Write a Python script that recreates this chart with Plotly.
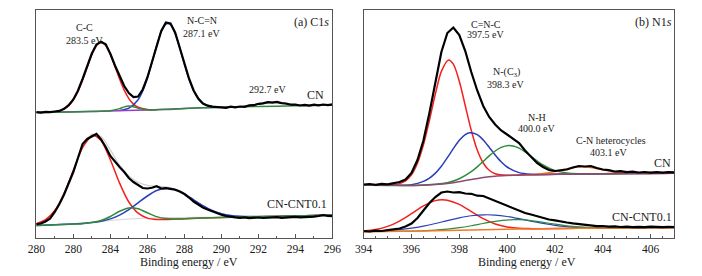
import plotly.graph_objects as go

# ---------------- Panel (a) C1s ----------------
c1_grid = [280.0, 280.25, 280.5, 280.75, 281.0, 281.25, 281.5, 281.75, 282.0, 282.25, 282.5, 282.75,
           283.0, 283.25, 283.5, 283.75, 284.0, 284.25, 284.5, 284.75, 285.0, 285.25, 285.5, 285.75,
           286.0, 286.25, 286.5, 286.75, 287.0, 287.25, 287.5, 287.75, 288.0, 288.25, 288.5, 288.75,
           289.0, 289.25, 289.5, 289.75, 290.0, 290.25, 290.5, 290.75, 291.0, 291.25, 291.5, 291.75,
           292.0, 292.25, 292.5, 292.75, 293.0, 293.25, 293.5, 293.75, 294.0, 294.25, 294.5, 294.75,
           295.0, 295.25, 295.5, 295.75, 296.0]
c1_cn_data = [126.0, 125.4, 126.1, 125.8, 126.5, 127.1, 129.2, 132.8, 138.5, 147.3, 159.0, 172.0,
              184.5, 193.5, 196.3, 193.8, 184.2, 172.5, 161.3, 152.0, 145.0, 141.0, 141.5, 148.5,
              160.5, 176.0, 192.5, 207.0, 215.5, 214.5, 205.5, 191.0, 174.5, 159.5, 147.5, 139.5,
              134.5, 132.3, 131.3, 131.0, 130.4, 130.2, 131.3, 130.6, 131.5, 131.2, 132.6, 132.8,
              134.2, 134.6, 135.8, 135.4, 136.1, 134.9, 134.5, 133.3, 133.4, 132.5, 133.1, 132.4,
              133.3, 132.7, 133.5, 132.8, 133.6]
c1_cnt_data = [13.8, 14.5, 16.5, 19.5, 26.0, 34.0, 43.5, 54.5, 66.0, 80.0, 94.0, 99.0,
               101.5, 104.0, 98.5, 91.0, 82.0, 76.0, 71.0, 66.0, 60.0, 56.0, 53.0, 50.0,
               49.5, 50.2, 51.8, 49.5, 49.8, 49.4, 48.3, 46.5, 44.0, 40.5, 36.5, 33.5,
               30.5, 28.5, 26.5, 24.5, 23.2, 22.0, 21.0, 20.6, 20.2, 20.7, 19.8, 20.4,
               20.5, 20.0, 20.1, 20.9, 20.8, 20.2, 20.4, 21.2, 21.1, 20.6, 20.7, 21.5,
               21.4, 22.0, 22.8, 22.0, 21.8]

# CN fitted components (C1s)
c1_cn_cc_x = [280, 280.5, 281, 281.5, 281.75, 282, 282.25, 282.5, 282.75, 283, 283.25, 283.5, 283.75,
              284, 284.25, 284.5, 284.75, 285, 285.25, 285.5, 286, 286.5]
c1_cn_cc_y = [125.5, 125.7, 126.3, 128.9, 132.3, 137.9, 146.5, 157.9, 170.9, 183.3, 192.3, 195.8, 192.6,
              183.8, 171.6, 158.9, 147.8, 139.4, 133.9, 130.8, 128.5, 128.3]
c1_cn_ncn_x = [284.5, 285, 285.5, 285.75, 286, 286.25, 286.5, 286.75, 287, 287.1, 287.25, 287.5, 287.75,
               288, 288.25, 288.5, 288.75, 289, 289.5, 290]
c1_cn_ncn_y = [127.6, 129.8, 138.3, 147.1, 159.8, 175.6, 192.3, 206.2, 213.8, 214.6, 213.2, 204.4, 190.1,
               173.7, 158.7, 147.1, 139.3, 134.7, 131.4, 130.9]
c1_cn_g_x = [280, 282, 283, 284, 284.5, 284.75, 285, 285.25, 285.5, 286, 287, 288, 289, 290, 292, 294, 296]
c1_cn_g_y = [125.5, 126, 126.5, 127.2, 129.35, 131.1, 132.0, 131.3, 129.85, 128.2, 128.5, 129.5, 130.3,
             130.8, 131.5, 132.2, 133.0]
c1_cn_p_x = [280, 284, 286, 288, 290, 291, 291.5, 292, 292.5, 292.7, 293, 293.5, 294, 294.5, 296]
c1_cn_p_y = [125.5, 127, 128, 129.5, 130.8, 131.35, 132.2, 133.9, 135.5, 135.75, 135.45, 134.1, 132.9,
             132.55, 133.0]

# CN-CNT0.1 fitted components (C1s)
c1_cnt_cc_x = [280, 280.5, 281, 281.5, 282, 282.5, 283, 283.1, 283.5, 284, 284.5, 285, 285.5, 286,
               286.5, 287, 288, 290, 292, 294, 296]
c1_cnt_cc_y = [14.2, 18.3, 27.5, 44.2, 67.4, 90.3, 102.3, 102.8, 97.5, 78.3, 54.9, 36.0, 24.8, 19.9,
               18.5, 18.5, 19.3, 20.6, 21.3, 22.0, 23.0]
c1_cnt_ncn_x = [280, 282, 282.5, 283, 283.5, 284, 284.5, 285, 285.5, 286, 286.5, 287, 287.5, 288,
                288.5, 289, 289.5, 290, 290.5, 291, 291.5, 293, 296]
c1_cnt_ncn_y = [12.5, 14.0, 14.65, 15.4, 16.75, 19.1, 22.9, 28.4, 35.2, 42.0, 47.45, 49.8, 48.5, 44.1,
                38.2, 32.3, 27.45, 24.3, 22.5, 21.7, 21.45, 21.6, 23.0]
c1_cnt_g_x = [280, 281, 282, 282.5, 283, 283.5, 284, 284.5, 285, 285.5, 286, 286.5, 287, 287.5, 288,
              289, 290, 291, 292, 293, 294, 295, 296]
c1_cnt_g_y = [12.5, 13.3, 14.0, 14.35, 15.4, 17.45, 21.5, 26.7, 30.1, 29.2, 25.2, 21.35, 19.4, 19.1,
              19.3, 20.1, 20.6, 21.0, 21.3, 21.6, 22.0, 22.5, 23.0]
c1_cnt_env_x = [280, 280.5, 281, 281.5, 282, 282.5, 283, 283.5, 284, 284.5, 285, 285.5, 286, 286.5,
                287, 287.5, 288, 288.5, 289, 289.5, 290, 290.5, 291, 292, 294, 296]
c1_cnt_env_y = [14.2, 18.3, 27.5, 44.15, 67.5, 90.75, 103.7, 101.55, 88.1, 72.9, 62.1, 55.8, 52.7,
                51.75, 51.1, 48.8, 44.1, 38.2, 32.3, 27.45, 24.3, 22.5, 21.7, 21.4, 22.0, 23.0]
c1_cnt_bg_x = [280, 283, 284, 285, 286, 287, 288, 290, 293, 296]
c1_cnt_bg_y = [12.5, 15.5, 17.5, 19.0, 19.8, 20.3, 20.6, 20.9, 21.6, 23.0]

c1_tickvals = [280, 282, 284, 286, 288, 290, 292, 294, 296]
c1_ticktext = ["280", "280", "284", "286", "288", "290", "292", "294", "296"]

# ---------------- Panel (b) N1s ----------------
n1_grid = [394.0, 394.25, 394.5, 394.75, 395.0, 395.25, 395.5, 395.75, 396.0, 396.25, 396.5, 396.75,
           397.0, 397.25, 397.5, 397.75, 398.0, 398.25, 398.5, 398.75, 399.0, 399.25, 399.5, 399.75,
           400.0, 400.25, 400.5, 400.75, 401.0, 401.25, 401.5, 401.75, 402.0, 402.25, 402.5, 402.75,
           403.0, 403.25, 403.5, 403.75, 404.0, 404.25, 404.5, 404.75, 405.0, 405.25, 405.5, 405.75,
           406.0, 406.25, 406.5, 406.75, 407.0]
n1_cn_data = [53.5, 54.0, 53.2, 54.1, 53.6, 54.5, 56.0, 58.5, 65.0, 78.0, 97.5, 125.0,
              156.5, 186.0, 205.0, 210.5, 203.0, 187.0, 166.0, 147.5, 132.0, 121.0, 113.5, 107.5,
              103.5, 99.5, 95.0, 87.5, 81.0, 75.0, 71.0, 68.0, 67.0, 67.5, 68.5, 70.5,
              72.0, 71.5, 72.0, 70.0, 68.5, 67.8, 66.5, 66.8, 65.8, 66.3, 65.5, 66.0,
              65.4, 65.9, 65.3, 65.8, 65.6]
n1_cnt_data = [7.0, 6.5, 7.3, 7.0, 7.8, 8.4, 9.5, 11.5, 14.5, 20.0, 27.5, 35.0,
               41.0, 45.5, 46.5, 45.5, 45.8, 44.5, 44.2, 42.3, 42.0, 39.5, 37.0, 34.5,
               32.0, 29.5, 27.5, 25.0, 23.5, 21.8, 20.5, 18.5, 17.6, 16.3, 15.5, 14.6,
               14.0, 13.2, 12.6, 11.8, 12.0, 11.3, 11.6, 11.0, 11.4, 10.9, 11.2, 10.8,
               11.3, 10.9, 10.8, 11.2, 11.0]

# CN fitted components (N1s)
n1_cn_cnc_x = [394, 395, 395.5, 395.75, 396, 396.25, 396.5, 396.75, 397, 397.25, 397.55, 397.75, 398,
               398.25, 398.5, 398.75, 399, 399.25, 399.5, 400, 401, 403, 405, 407]
n1_cn_cnc_y = [53.0, 53.0, 54.4, 57.1, 63.1, 74.7, 93.1, 117.5, 144.2, 166.6, 178.1, 173.8, 156.8,
               132.3, 107.7, 87.9, 75.0, 67.7, 64.3, 62.8, 63.3, 64.0, 64.5, 64.7]
n1_cn_nc3_x = [394, 395.5, 396, 396.5, 396.75, 397, 397.25, 397.5, 397.75, 398, 398.25, 398.43, 398.75,
               399, 399.25, 399.5, 399.75, 400, 400.5, 401, 401.5, 403, 405, 407]
n1_cn_nc3_y = [53.0, 52.75, 53.3, 56.6, 59.9, 64.9, 71.8, 80.3, 89.3, 97.7, 103.4, 105.2, 103.3,
               98.0, 90.7, 83.1, 76.3, 71.0, 65.4, 63.8, 63.6, 64.0, 64.5, 64.7]
n1_cn_nh_x = [394, 396, 397, 397.5, 398, 398.5, 398.75, 399, 399.25, 399.5, 399.75, 400.06, 400.25,
              400.5, 400.75, 401, 401.25, 401.5, 402, 402.5, 403, 405, 407]
n1_cn_nh_y = [53.0, 52.5, 53.7, 55.2, 59.2, 66.3, 71.1, 76.6, 82.1, 87.0, 90.6, 92.55, 92.1,
              89.9, 86.15, 81.7, 77.1, 73.0, 67.4, 64.95, 64.25, 64.5, 64.7]
n1_cn_het_x = [401, 401.5, 402, 402.5, 403.1, 403.5, 404, 404.5, 405, 405.5, 406]
n1_cn_het_y = [63.5, 64.5, 66.5, 69.35, 71.35, 70.55, 68.2, 66.0, 64.9, 64.65, 64.6]
n1_cn_bg_x = [394, 395, 396, 397, 397.5, 398, 398.5, 399, 399.5, 400, 400.5, 401, 402, 403, 404, 405,
              406, 407]
n1_cn_bg_y = [53.0, 52.8, 52.5, 53.5, 54.4, 56.3, 58.5, 60.5, 61.8, 62.5, 63.0, 63.3, 63.7, 64.0,
              64.3, 64.5, 64.6, 64.7]

# CN-CNT0.1 fitted components (N1s)
n1_cnt_cnc_x = [394, 394.5, 395, 395.5, 396, 396.5, 397, 397.28, 397.5, 398, 398.5, 399, 399.5, 400,
                400.5, 401, 401.5, 403, 405, 407]
n1_cnt_cnc_y = [7.0, 8.5, 11.6, 16.95, 24.3, 32.1, 37.4, 38.3, 37.8, 33.6, 26.45, 19.3, 14.05, 11.1,
                9.7, 9.35, 9.25, 9.7, 10.1, 10.3]
n1_cnt_nc3_x = [394, 394.5, 395, 395.5, 396, 396.5, 397, 397.5, 398, 398.5, 399.04, 399.5, 400, 400.5,
                401, 401.5, 402, 402.5, 403, 403.5, 404, 405, 407]
n1_cnt_nc3_y = [6.45, 6.8, 7.4, 8.35, 9.8, 11.9, 14.5, 17.45, 20.1, 22.25, 23.2, 22.95, 21.5, 19.3,
                16.8, 14.55, 12.7, 11.45, 10.7, 10.3, 10.1, 10.1, 10.3]
n1_cnt_nh_x = [394, 396, 396.5, 397, 397.5, 398, 398.5, 399, 399.5, 400.26, 400.5, 401, 401.5, 402,
               402.5, 403, 403.5, 404, 404.5, 405, 407]
n1_cnt_nh_y = [6.3, 6.9, 7.3, 7.8, 8.85, 10.3, 12.25, 14.5, 16.65, 18.3, 18.3, 17.4, 15.65, 13.8,
               12.15, 11.1, 10.5, 10.2, 10.1, 10.1, 10.3]
n1_cnt_bg_x = [394, 395, 396, 397, 398, 399, 400, 401, 402, 403, 404, 405, 406, 407]
n1_cnt_bg_y = [6.3, 6.5, 6.8, 7.2, 7.7, 8.2, 8.7, 9.1, 9.4, 9.7, 9.9, 10.1, 10.2, 10.3]

n1_tickvals = [394, 396, 398, 400, 402, 404, 406]
n1_ticktext = ["394", "396", "398", "400", "402", "404", "406"]

# ---------------- styling ----------------
RED = "#f4201c"
BLUE = "#2a3fb8"
GREEN = "#2f8a3c"
PURPLE = "#9a3cc8"
ORANGE = "#f47a22"
MAROON = "#8e4a6e"
BLACK = "#000000"
FONT = "Liberation Serif"
W, H = 702, 276

fig = go.Figure()


def add(x, y, color, width, xa, ya, smooth=True):
    fig.add_trace(go.Scatter(
        x=x, y=y, mode="lines", xaxis=xa, yaxis=ya, showlegend=False, hoverinfo="skip",
        line=dict(color=color, width=width, shape="spline" if smooth else "linear",
                  smoothing=0.8 if smooth else None)))


# Panel (a)
add(c1_cnt_bg_x, c1_cnt_bg_y, "#d4d4d4", 1, "x", "y")
add(c1_cnt_env_x, c1_cnt_env_y, "#cfcfcf", 1.2, "x", "y")
add(c1_cn_cc_x, c1_cn_cc_y, RED, 1.5, "x", "y")
add(c1_cn_ncn_x, c1_cn_ncn_y, BLUE, 1.5, "x", "y")
add(c1_cn_p_x, c1_cn_p_y, PURPLE, 1.5, "x", "y")
add(c1_cn_g_x, c1_cn_g_y, GREEN, 1.5, "x", "y")
add(c1_cnt_cc_x, c1_cnt_cc_y, RED, 1.5, "x", "y")
add(c1_cnt_ncn_x, c1_cnt_ncn_y, BLUE, 1.5, "x", "y")
add(c1_cnt_g_x, c1_cnt_g_y, GREEN, 1.5, "x", "y")
add(c1_grid, c1_cn_data, BLACK, 2.2, "x", "y", smooth=False)
add(c1_grid, c1_cnt_data, BLACK, 2.2, "x", "y", smooth=False)

# Panel (b)
add(n1_cn_cnc_x, n1_cn_cnc_y, RED, 1.5, "x2", "y2")
add(n1_cn_nc3_x, n1_cn_nc3_y, BLUE, 1.5, "x2", "y2")
add(n1_cn_nh_x, n1_cn_nh_y, GREEN, 1.5, "x2", "y2")
add(n1_cn_het_x, n1_cn_het_y, ORANGE, 1.5, "x2", "y2")
add(n1_cn_bg_x, n1_cn_bg_y, MAROON, 1.5, "x2", "y2")
add(n1_cnt_cnc_x, n1_cnt_cnc_y, RED, 1.5, "x2", "y2")
add(n1_cnt_nc3_x, n1_cnt_nc3_y, BLUE, 1.2, "x2", "y2")
add(n1_cnt_nh_x, n1_cnt_nh_y, GREEN, 1.2, "x2", "y2")
add(n1_cnt_bg_x, n1_cnt_bg_y, ORANGE, 1.5, "x2", "y2")
add(n1_grid, n1_cn_data, BLACK, 2.2, "x2", "y2", smooth=False)
add(n1_grid, n1_cnt_data, BLACK, 2.2, "x2", "y2", smooth=False)

AX = "#555555"
ydom = [(276 - 238) / 276, (276 - 10) / 276]


def xax(domain, rng, tv, tt, minor_dt, anchor):
    return dict(domain=domain, range=rng, tickmode="array", tickvals=tv, ticktext=tt,
                ticks="inside", ticklen=4, tickcolor=AX, tickwidth=1,
                minor=dict(ticks="inside", ticklen=2, tickcolor=AX, dtick=minor_dt, tick0=rng[0]),
                showline=True, linecolor=AX, linewidth=1, mirror=True,
                showgrid=False, zeroline=False, anchor=anchor,
                tickfont=dict(family=FONT, size=11.5, color="#1a1a1a"))


def yax(anchor):
    return dict(domain=ydom, range=[0, 228], showticklabels=False, ticks="",
                showline=True, linecolor=AX, linewidth=1, mirror=True,
                showgrid=False, zeroline=False, anchor=anchor)


fig.update_layout(
    width=W, height=H, margin=dict(l=0, r=0, t=0, b=0),
    paper_bgcolor="white", plot_bgcolor="white", showlegend=False,
    xaxis=xax([28 / W, 332 / W], [280, 296], c1_tickvals, c1_ticktext, 1, "y"),
    yaxis=yax("x"),
    xaxis2=xax([364 / W, 683 / W], [394, 407], n1_tickvals, n1_ticktext, 0.5, "y2"),
    yaxis2=yax("x2"),
)

anns = [
    # panel (a)
    ("x", "y", 282.63, 211, "C-C", 10),
    ("x", "y", 282.63, 198, "283.5 eV", 10),
    ("x", "y", 288.95, 217.5, "N-C=N", 10),
    ("x", "y", 288.95, 204.5, "287.1 eV", 10),
    ("x", "y", 292.51, 149, "292.7 eV", 10),
    ("x", "y", 295.1, 143, "CN", 12),
    ("x", "y", 294.84, 216.3, "(a) C1<i>s</i>", 12),
    ("x", "y", 294.07, 34, "CN-CNT0.1", 12),
    # panel (b)
    ("x2", "y2", 399.11, 214, "C=N-C", 10),
    ("x2", "y2", 399.11, 203.7, "397.5 eV", 10),
    ("x2", "y2", 399.96, 165.3, "N-(C<sub>3</sub>)", 10),
    ("x2", "y2", 399.92, 153.7, "398.3 eV", 10),
    ("x2", "y2", 401.24, 120.7, "N-H", 10),
    ("x2", "y2", 401.24, 109.7, "400.0 eV", 10),
    ("x2", "y2", 404.34, 97.3, "C-N heterocycles", 10),
    ("x2", "y2", 404.23, 85.3, "403.1 eV", 10),
    ("x2", "y2", 406.51, 74.7, "CN", 12),
    ("x2", "y2", 405.65, 20.7, "CN-CNT0.1", 12),
    ("x2", "y2", 406.12, 216.3, "(b) N1<i>s</i>", 12),
]
for xr, yr, x, y, t, s in anns:
    fig.add_annotation(xref=xr, yref=yr, x=x, y=y, text=t, showarrow=False,
                       xanchor="center", yanchor="middle",
                       font=dict(family=FONT, size=s, color="#1a1a1a"))

for px in (185, 532):
    fig.add_annotation(xref="paper", yref="paper", x=px / W, y=1 - 262 / H,
                       text="Binding energy / eV", showarrow=False,
                       xanchor="center", yanchor="middle",
                       font=dict(family=FONT, size=12, color="#1a1a1a"))

fig.write_html("out.html", config={"displayModeBar": False},
               post_script="document.body.style.margin='0';document.body.style.overflow='hidden';")
